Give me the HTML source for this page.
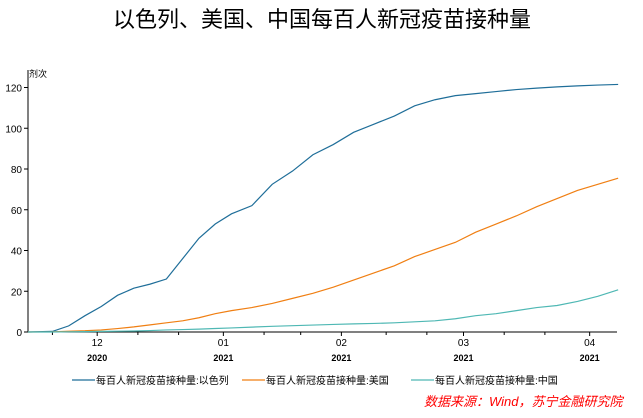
<!DOCTYPE html>
<html><head><meta charset="utf-8"><style>
body{margin:0;background:#fff;width:643px;height:413px;overflow:hidden;font-family:"Liberation Sans","Noto Sans CJK SC",sans-serif}
svg text{font-family:"Liberation Sans","Noto Sans CJK SC",sans-serif}
</style></head><body>
<svg id="c" width="643" height="413">
<text x="322" y="27" font-size="22" text-anchor="middle" fill="#000">以色列、美国、中国每百人新冠疫苗接种量</text>
<text x="29" y="77" font-size="9" fill="#000">剂次</text>
<text x="424" y="406" font-size="13" font-style="italic" fill="#f00">数据来源：Wind，苏宁金融研究院</text>
</svg>
<script>
const dates=["2020-11-14","2020-11-20","2020-11-24","2020-11-28","2020-12-02","2020-12-06","2020-12-10","2020-12-14","2020-12-18","2020-12-22","2020-12-26","2020-12-30","2021-01-03","2021-01-08","2021-01-13","2021-01-18","2021-01-23","2021-01-28","2021-02-02","2021-02-07","2021-02-12","2021-02-17","2021-02-22","2021-02-27","2021-03-04","2021-03-09","2021-03-14","2021-03-19","2021-03-24","2021-03-29","2021-04-03","2021-04-08"];
const israel=[0,0.3,3,8,12.5,18,21.5,23.5,26,36,46,53,58,62,72.5,79,87,92,98,102,106,111,114,116,117,118,119,119.7,120.3,120.8,121.2,121.5];
const usa=[0,0.1,0.4,0.6,1,1.7,2.5,3.5,4.5,5.5,7,9,10.5,12,14,16.5,19,22,25.5,29,32.5,37,40.5,44,49,53,57,61.5,65.5,69.5,72.5,75.5];
const china=[0,0,0.1,0.2,0.3,0.4,0.5,0.7,1,1.2,1.4,1.7,2,2.4,2.8,3.1,3.4,3.7,4,4.2,4.5,5,5.5,6.5,8,9,10.5,12,13,15,17.5,20.7];
const yTicks=[0,20,40,60,80,100,120];
const monthTicks=["2020-12-01","2021-01-01","2021-01-30","2021-03-01","2021-04-01"];
const minorTicks=["2020-11-20","2020-12-11","2020-12-21","2021-01-11","2021-01-20","2021-02-10","2021-02-20","2021-03-11","2021-03-21"];
const monthLabels=["12","01","02","03","04"];
const yearLabels=["2020","2021","2021","2021","2021"];
const seriesNames=["每百人新冠疫苗接种量:以色列","每百人新冠疫苗接种量:美国","每百人新冠疫苗接种量:中国"];
const colors=["#1f6e99","#f07f13","#4fb8b4"];
const NS="http://www.w3.org/2000/svg";
const svg=document.getElementById('c');
const t0=Date.parse("2020-11-14"),DAY=864e5;
const X0=28,X1=617,Y0=332,Y120=87.5;
function xs(d){return X0+(Date.parse(d)-t0)/DAY*4.07;}
function ys(v){return Y0-(v/120)*(Y0-Y120);}
function el(tag,attrs){const e=document.createElementNS(NS,tag);for(const k in attrs)e.setAttribute(k,attrs[k]);svg.appendChild(e);return e;}
let a=el('line',{x1:X0,y1:70,x2:X0,y2:Y0,stroke:'#000','stroke-width':1});


a=el('line',{x1:X0,y1:Y0,x2:X1,y2:Y0,stroke:'#000','stroke-width':1});


yTicks.forEach(v=>{
  const t=el('line',{x1:X0-4,y1:ys(v),x2:X0,y2:ys(v),stroke:'#000'});
  
  
  const l=el('text',{x:X0-6,y:ys(v)+4,'font-size':10,'text-anchor':'end'});l.textContent=v;
  
  
});
minorTicks.forEach(d=>{
  const t=el('line',{x1:xs(d),y1:Y0,x2:xs(d),y2:Y0+3,stroke:'#000'});
  
  
});
monthTicks.forEach((d,i)=>{
  const x=xs(d);
  const t=el('line',{x1:x,y1:Y0,x2:x,y2:Y0+4,stroke:'#000'});
  
  
  const l=el('text',{x:x,y:Y0+14,'font-size':10,'text-anchor':'middle'});l.textContent=monthLabels[i];
  
  
  const y=el('text',{x:x,y:Y0+29,'font-size':9,'font-weight':'bold','text-anchor':'middle'});y.textContent=yearLabels[i];
  
  
});
[israel,usa,china].forEach((s,i)=>{
  const p=el('polyline',{points:s.map((v,j)=>xs(dates[j])+','+ys(v)).join(' '),fill:'none',stroke:colors[i],'stroke-width':1.2});
  
  
});
const lx=[72,242,411];
seriesNames.forEach((n,i)=>{
  const l=el('line',{x1:lx[i],y1:380,x2:lx[i]+23,y2:380,stroke:colors[i],'stroke-width':1.2});
  
  
  const t=el('text',{x:lx[i]+24,y:384,'font-size':10});t.textContent=n;
  
  
});
</script>
</body></html>
